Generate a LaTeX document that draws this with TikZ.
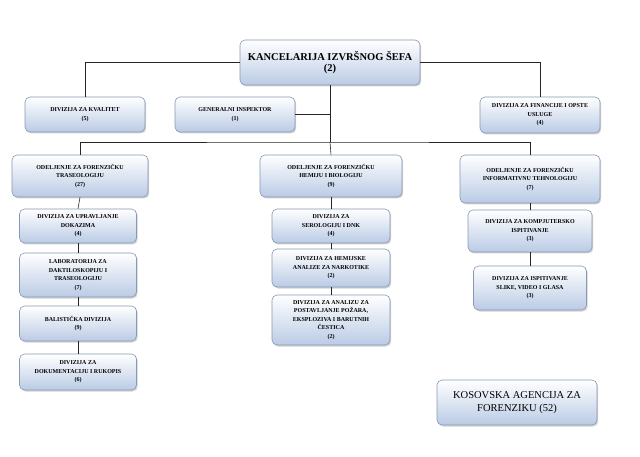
\documentclass[tikz,border=0pt]{standalone}
\usepackage{fontspec}
\setmainfont{Liberation Serif}
\usetikzlibrary{shadows}
\definecolor{boxblue}{RGB}{186,203,229}
\definecolor{boxedge}{RGB}{135,152,180}
\tikzset{
  box/.style={draw=boxedge, line width=0.6pt, rounded corners=5pt, top color=white, bottom color=boxblue,
    drop shadow={shadow xshift=1.2pt, shadow yshift=-1.5pt, opacity=0.35},
    align=center, inner sep=1pt, font=\fontsize{6}{8.6}\selectfont\bfseries},
  link/.style={draw=black!85, line width=0.6pt}
}
\begin{document}
\begin{tikzpicture}[x=1pt,y=-1pt]
\useasboundingbox (0,0) rectangle (640,457);
% nodes
\node[box, minimum width=180, minimum height=45, font=\fontsize{10.5}{11.5}\selectfont\bfseries] (top) at (330,62.5) {KANCELARIJA IZVRŠNOG ŠEFA\\(2)};
\node[box, minimum width=120, minimum height=35] (kval) at (85,114.5) {DIVIZIJA ZA KVALITET\\(5)};
\node[box, minimum width=120, minimum height=35] (gi) at (235,114.5) {GENERALNI INSPEKTOR\\(1)};
\node[box, minimum width=120, minimum height=36] (fin) at (540,115) {DIVIZIJA ZA FINANCIJE I OPSTE\\USLUGE\\(4)};
\node[box, minimum width=136, minimum height=42] (d1) at (80,176) {ODELJENJE ZA FORENZIČKU\\TRASEOLOGIJU\\(27)};
\node[box, minimum width=142, minimum height=42] (d2) at (331,176) {ODELJENJE ZA FORENZIČKU\\HEMIJU I BIOLOGIJU\\(9)};
\node[box, minimum width=140, minimum height=48] (d3) at (530,179) {ODELJENJE ZA FORENZIČKU\\INFORMATIVNU TEHNOLOGIJU\\(7)};
\node[box, minimum width=117, minimum height=34] (c11) at (78,226) {DIVIZIJA ZA UPRAVLJANJE\\DOKAZIMA\\(4)};
\node[box, minimum width=117, minimum height=44] (c12) at (78,275) {LABORATORIJA ZA\\DAKTILOSKOPIJU I\\TRASEOLOGIJU\\(7)};
\node[box, minimum width=117, minimum height=35] (c13) at (78,323.5) {BALISTIČKA DIVIZIJA\\(9)};
\node[box, minimum width=117, minimum height=36] (c14) at (78,372) {DIVIZIJA ZA\\DOKUMENTACIJU I RUKOPIS\\(6)};
\node[box, minimum width=118, minimum height=34] (c21) at (331,226) {DIVIZIJA ZA\\SEROLOGIJU I DNK\\(4)};
\node[box, minimum width=118, minimum height=38] (c22) at (331,268) {DIVIZIJA ZA HEMIJSKE\\ANALIZE ZA NARKOTIKE\\(2)};
\node[box, minimum width=118, minimum height=50] (c23) at (331,320) {DIVIZIJA ZA ANALIZU ZA\\POSTAVLJANJE POŽARA,\\EKSPLOZIVA I BARUTNIH\\ČESTICA\\(2)};
\node[box, minimum width=124, minimum height=42] (c31) at (530,231) {DIVIZIJA ZA KOMPJUTERSKO\\ISPITIVANJE\\(3)};
\node[box, minimum width=113, minimum height=44] (c32) at (530,288) {DIVIZIJA ZA ISPITIVANJE\\SLIKE, VIDEO I GLASA\\(3)};
\node[box, minimum width=160, minimum height=45, font=\fontsize{10.5}{12.5}\selectfont] (leg) at (517,402.5) {KOSOVSKA AGENCIJA ZA\\FORENZIKU (52)};
% connectors
\coordinate (hub) at (330,142);
\draw[link] (top.west) -| (kval.north);
\draw[link] (top.east) -| (fin.north);
\draw[link] (top.south) -- (hub);
\draw[link] (gi.east) -- (gi.east -| hub);
\draw[link] (d1.north) |- (hub) -| (d3.north);
\draw[link] (hub) -- (d2.north);
\draw[link] (d1.south) -- (c11.north);
\draw[link] (c11.south) -- (c12.north);
\draw[link] (c12.south) -- (c13.north);
\draw[link] (c13.south) -- (c14.north);
\draw[link] (d2.south) -- (c21.north);
\draw[link] (c21.south) -- (c22.north);
\draw[link] (c22.south) -- (c23.north);
\draw[link] (d3.south) -- (c31.north);
\draw[link] (c31.south) -- (c32.north);
\end{tikzpicture}
\end{document}
